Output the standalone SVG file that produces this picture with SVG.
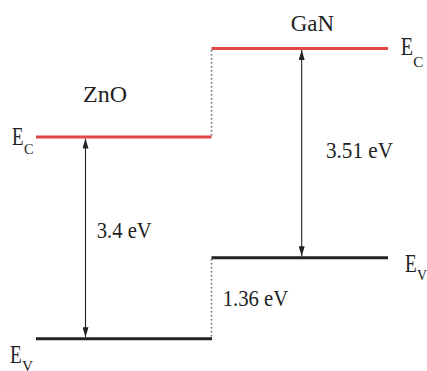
<svg xmlns="http://www.w3.org/2000/svg" width="427" height="371" viewBox="0 0 427 371">
<style>
.t{fill:#222;font-family:"Liberation Serif",serif;}
.big{font-size:23.5px;}
.num{font-size:23px;}
.e{font-size:25px;}
.sub{font-size:15px;}
.ec{stroke:#e04848;stroke-width:3;fill:none;}
.ev{stroke:#222;stroke-width:3;fill:none;}
.dot{stroke:#666;stroke-width:1.6;stroke-dasharray:1.6 2.4;fill:none;}
.arr{stroke:#222;stroke-width:1.1;fill:none;marker-start:url(#ah);marker-end:url(#ah);}
</style>
<defs>
<marker id="ah" viewBox="0 0 10 6" refX="10" refY="3" markerWidth="10" markerHeight="6" markerUnits="userSpaceOnUse" orient="auto-start-reverse">
<path d="M0,0 L10,3 L0,6 Z" fill="#222"/>
</marker>
</defs>
<rect width="427" height="371" fill="#fff"/>
<g id="connectors">
<line class="dot" x1="211.5" y1="50" x2="211.5" y2="137"/>
<line class="dot" x1="211.5" y1="259" x2="211.5" y2="338.7"/>
<line class="arr" x1="85.5" y1="138.5" x2="85.5" y2="337.2"/>
<line class="arr" x1="301.7" y1="50" x2="301.7" y2="256.2"/>
</g>
<g id="zno">
<line class="ec" x1="36" y1="137" x2="211.5" y2="137"/>
<line class="ev" x1="36" y1="338.7" x2="212" y2="338.7"/>
<text class="t big" x="83" y="102.3" textLength="44" lengthAdjust="spacingAndGlyphs">ZnO</text>
<text class="t e" x="12" y="145" textLength="11.5" lengthAdjust="spacingAndGlyphs">E</text>
<text class="t sub" x="24" y="154" textLength="9.5" lengthAdjust="spacingAndGlyphs">C</text>
<text class="t e" x="10" y="363.3" textLength="11.7" lengthAdjust="spacingAndGlyphs">E</text>
<text class="t sub" x="22" y="370.5" textLength="11" lengthAdjust="spacingAndGlyphs">V</text>
<text class="t num" x="96.7" y="237.7" textLength="55" lengthAdjust="spacingAndGlyphs">3.4 eV</text>
</g>
<g id="gan">
<line class="ec" x1="211.5" y1="48.5" x2="388" y2="48.5"/>
<line class="ev" x1="211.5" y1="257.7" x2="388" y2="257.7"/>
<text class="t big" x="290.7" y="30.7" textLength="43.3" lengthAdjust="spacingAndGlyphs">GaN</text>
<text class="t e" x="400.7" y="55" textLength="12.3" lengthAdjust="spacingAndGlyphs">E</text>
<text class="t sub" x="413.3" y="66.7" textLength="10" lengthAdjust="spacingAndGlyphs">C</text>
<text class="t e" x="405" y="271.7" textLength="11.7" lengthAdjust="spacingAndGlyphs">E</text>
<text class="t sub" x="417" y="280" textLength="10" lengthAdjust="spacingAndGlyphs">V</text>
<text class="t num" x="326" y="157.7" textLength="67" lengthAdjust="spacingAndGlyphs">3.51 eV</text>
</g>
<g id="offset">
<text class="t num" x="222.7" y="305.7" textLength="65.6" lengthAdjust="spacingAndGlyphs">1.36 eV</text>
</g>
</svg>
